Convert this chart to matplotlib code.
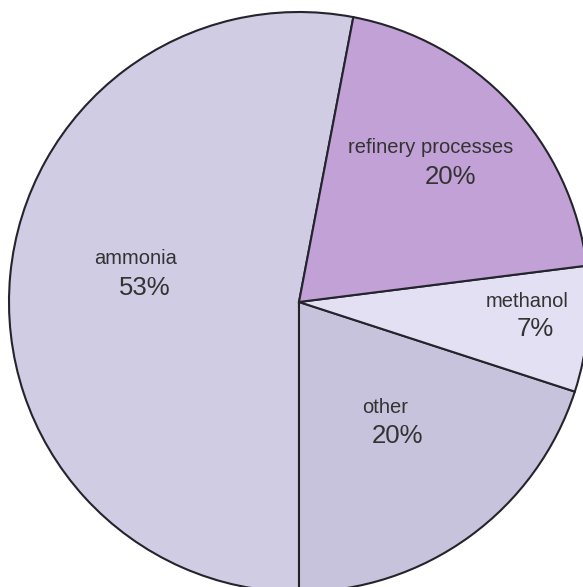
import matplotlib
matplotlib.use("Agg")
import matplotlib.pyplot as plt

# data, counterclockwise from the top
labels = ["ammonia", "other", "methanol", "refinery processes"]
shares = [53, 20, 7, 20]
colors = ["#d0cce4", "#c7c3dc", "#e3e0f4", "#c2a1d7"]

# label anchor points in pixels (name, percent), from the reference picture
name_pos = [(136, 258), (385, 407), (527, 301), (431, 147)]
pct_pos = [(145, 288), (397, 436), (535, 329), (450, 177)]

W, H = 583, 587
cx, cy, R = 299, 302, 290

plt.rcParams["font.family"] = ["Liberation Sans", "DejaVu Sans"]
fig = plt.figure(figsize=(W / 100, H / 100), dpi=100)
ax = fig.add_axes([0, 0, 1, 1])

# ammonia ends pointing straight down
start = 270 - 360 * shares[0] / sum(shares)
ax.pie(shares, colors=colors, startangle=start, counterclock=True, radius=1,
       wedgeprops=dict(edgecolor="#24242c", linewidth=1.5))
ax.set_xlim(-cx / R, (W - cx) / R)
ax.set_ylim(-(H - cy) / R, cy / R)
ax.set_aspect("auto")
ax.axis("off")

def to_data(p):
    return (p[0] - cx) / R, (cy - p[1]) / R

for lab, val, npos, ppos in zip(labels, shares, name_pos, pct_pos):
    x, y = to_data(npos)
    ax.text(x, y, lab, ha="center", va="center", fontsize=14.5, color="#333333")
    x, y = to_data(ppos)
    ax.text(x, y, f"{val}%", ha="center", va="center", fontsize=18.5, color="#333333")

fig.savefig("out.png", dpi=100)
